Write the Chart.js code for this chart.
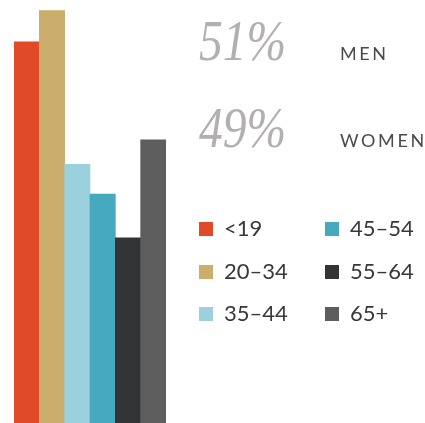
<!DOCTYPE html>
<html>
<head>
<meta charset="utf-8">
<script src="https://cdn.jsdelivr.net/npm/chart.js@4"></script>
<style>
  html, body { margin: 0; padding: 0; background: #fff; }
  #wrap { position: relative; width: 425px; height: 423px; }
</style>
</head>
<body>
<div id="wrap"><canvas id="age-chart"></canvas></div>
<script>
// age groups and share of audience (%)
const ageGroups = ['<19', '20–34', '35–44', '45–54', '55–64', '65+'];
const agePct = [21.8, 23.6, 14.8, 13.1, 10.6, 16.2];
const barColors = ['#e04a27', '#cbae6c', '#9ad1dc', '#46a9be', '#333436', '#5e5e5e'];

// gender split
const genderLabels = ['MEN', 'WOMEN'];
const genderPct = [51, 49];

// draws the big percentages and the two-column legend to the right of the bars
const sidePanel = {
  id: 'sidePanel',
  afterDraw: (chart) => {
    const ctx = chart.ctx;
    const baselines = [60, 147];
    ctx.save();
    genderPct.forEach((p, i) => {
      ctx.save();
      ctx.font = 'italic 56px "Liberation Serif", serif';
      ctx.fillStyle = '#b3afaf';
      ctx.translate(199, baselines[i]);
      ctx.scale(0.85, 1);
      ctx.fillText(p + '%', 0, 0);
      ctx.restore();

      ctx.font = '18px Lato, sans-serif';
      ctx.fillStyle = '#4a4a4a';
      ctx.letterSpacing = '2.6px';
      ctx.fillText(genderLabels[i], 340, baselines[i]);
      ctx.letterSpacing = '0px';
    });

    // legend
    const rowBase = [236, 279, 321];
    ageGroups.forEach((g, i) => {
      const col = Math.floor(i / 3);
      const row = i % 3;
      const x = col === 0 ? 199 : 325;
      const y = rowBase[row];
      ctx.fillStyle = barColors[i];
      ctx.fillRect(x, y - 14, 14, 14);
      ctx.font = '22px Lato, sans-serif';
      ctx.fillStyle = '#383838';
      ctx.fillText(g, x + 25, y);
    });
    ctx.restore();
  }
};

const ctx = document.getElementById('age-chart').getContext('2d');
new Chart(ctx, {
  type: 'bar',
  data: {
    labels: ageGroups,
    datasets: [{
      data: agePct,
      backgroundColor: barColors,
      borderWidth: 0,
      barPercentage: 1,
      categoryPercentage: 1
    }]
  },
  options: {
    responsive: true,
    maintainAspectRatio: false,
    animation: false,
    layout: { padding: { left: 14, right: 259, top: 0, bottom: 0 } },
    scales: {
      x: { display: false },
      y: { display: false, min: 0, max: 24.2 }
    },
    plugins: {
      legend: { display: false },
      tooltip: { enabled: false }
    }
  },
  plugins: [sidePanel]
});
</script>
</body>
</html>
